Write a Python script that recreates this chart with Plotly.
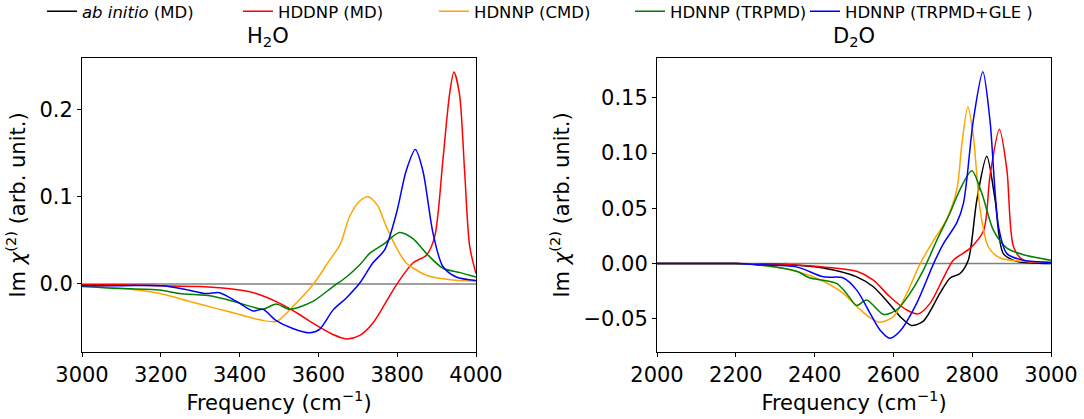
import plotly.graph_objects as go

# ---------------- H2O panel data ----------------
h2o_red_x = [3000, 3100, 3200, 3300, 3400, 3442, 3501, 3552, 3586, 3637, 3671, 3705, 3738, 3770, 3798, 3840, 3874, 3895, 3916, 3933, 3944, 3958, 3971, 3984, 4000]
h2o_red_y = [-0.001, -0.001, -0.002, -0.003, -0.007, -0.011, -0.022, -0.035, -0.045, -0.058, -0.063, -0.059, -0.045, -0.022, -0.001, 0.024, 0.033, 0.054, 0.142, 0.218, 0.243, 0.218, 0.130, 0.043, 0.012]

h2o_orange_x = [3000, 3100, 3197, 3273, 3340, 3400, 3451, 3493, 3535, 3586, 3628, 3655, 3679, 3705, 3726, 3750, 3772, 3800, 3823, 3874, 3930, 4000]
h2o_orange_y = [-0.002, -0.005, -0.011, -0.020, -0.028, -0.035, -0.041, -0.043, -0.026, -0.001, 0.027, 0.045, 0.077, 0.095, 0.100, 0.090, 0.066, 0.040, 0.024, 0.010, 0.005, 0.003]

h2o_green_x = [3000, 3078, 3197, 3248, 3332, 3392, 3430, 3459, 3493, 3527, 3586, 3637, 3671, 3705, 3730, 3764, 3806, 3840, 3874, 3916, 3960, 4000]
h2o_green_y = [-0.003, -0.005, -0.007, -0.011, -0.014, -0.021, -0.026, -0.029, -0.023, -0.029, -0.020, -0.003, 0.008, 0.022, 0.035, 0.045, 0.059, 0.052, 0.035, 0.018, 0.013, 0.008]

h2o_blue_x = [3000, 3100, 3205, 3260, 3315, 3349, 3392, 3434, 3459, 3493, 3535, 3578, 3603, 3637, 3671, 3705, 3738, 3768, 3798, 3823, 3846, 3865, 3891, 3916, 3950, 4000]
h2o_blue_y = [-0.002, -0.002, -0.002, -0.006, -0.011, -0.010, -0.020, -0.031, -0.029, -0.042, -0.051, -0.056, -0.052, -0.030, -0.016, 0.001, 0.024, 0.039, 0.081, 0.130, 0.154, 0.130, 0.058, 0.020, 0.008, 0.004]

# ---------------- D2O panel data ----------------
d2o_black_x = [2000, 2200, 2337, 2422, 2507, 2549, 2591, 2620, 2646, 2676, 2718, 2744, 2769, 2790, 2812, 2837, 2858, 2879, 2913, 3000]
d2o_black_y = [0.0, 0.0, -0.001, -0.004, -0.012, -0.021, -0.037, -0.049, -0.056, -0.052, -0.027, -0.013, -0.009, 0.003, 0.058, 0.097, 0.058, 0.009, 0.002, 0.0]

d2o_red_x = [2000, 2200, 2337, 2422, 2507, 2549, 2591, 2634, 2663, 2693, 2727, 2752, 2795, 2829, 2845, 2869, 2888, 2905, 2930, 3000]
d2o_red_y = [0.0, 0.0, -0.001, -0.003, -0.007, -0.015, -0.030, -0.042, -0.0455, -0.036, -0.013, 0.003, 0.014, 0.030, 0.079, 0.1215, 0.085, 0.015, 0.003, 0.001]

d2o_orange_x = [2000, 2200, 2253, 2354, 2422, 2473, 2507, 2541, 2566, 2600, 2634, 2668, 2702, 2735, 2761, 2774, 2789, 2803, 2820, 2841, 2871, 2930, 3000]
d2o_orange_y = [0.0, 0.0, -0.001, -0.007, -0.016, -0.027, -0.039, -0.049, -0.053, -0.048, -0.027, 0.000, 0.021, 0.040, 0.067, 0.109, 0.142, 0.115, 0.049, 0.015, 0.005, 0.002, 0.001]

d2o_green_x = [2000, 2200, 2253, 2354, 2388, 2422, 2456, 2481, 2507, 2532, 2575, 2608, 2642, 2676, 2710, 2744, 2769, 2799, 2824, 2854, 2888, 2930, 3000]
d2o_green_y = [0.0, 0.0, -0.001, -0.007, -0.013, -0.015, -0.018, -0.027, -0.038, -0.033, -0.046, -0.042, -0.027, -0.006, 0.021, 0.046, 0.067, 0.084, 0.064, 0.030, 0.014, 0.008, 0.003]

d2o_blue_x = [2000, 2200, 2253, 2354, 2422, 2473, 2507, 2541, 2566, 2591, 2617, 2659, 2702, 2727, 2761, 2778, 2803, 2827, 2845, 2867, 2888, 2930, 3000]
d2o_blue_y = [0.0, 0.0, -0.001, -0.003, -0.012, -0.013, -0.024, -0.045, -0.060, -0.0675, -0.061, -0.036, 0.000, 0.018, 0.037, 0.055, 0.130, 0.1735, 0.130, 0.033, 0.009, 0.003, 0.001]

names = ["<i>ab initio</i> (MD)", "HDDNP (MD)", "HDNNP (CMD)", "HDNNP (TRPMD)", "HDNNP (TRPMD+GLE )"]
colors = ["black", "red", "orange", "green", "blue"]
legend_ids = ["legend", "legend", "legend", "legend", "legend2"]

W, H = 1084, 419
OFF = 0  # page body margin removed via post_script
FONT = "DejaVu Sans"

def fx(px):
    return (px - OFF) / W

def fy(py):
    return 1 - (py - OFF) / H

fig = go.Figure()

def add(x, y, i, xa, ya, show):
    fig.add_trace(go.Scatter(x=x, y=y, mode="lines", name=names[i],
                             line=dict(color=colors[i], width=1.5, shape="spline", smoothing=0.8),
                             xaxis=xa, yaxis=ya, showlegend=show, legendgroup=str(i),
                             legend=legend_ids[i]))

add(d2o_black_x, d2o_black_y, 0, "x2", "y2", True)
add(h2o_red_x, h2o_red_y, 1, "x", "y", True)
add(h2o_orange_x, h2o_orange_y, 2, "x", "y", True)
add(h2o_green_x, h2o_green_y, 3, "x", "y", True)
add(h2o_blue_x, h2o_blue_y, 4, "x", "y", True)
add(d2o_red_x, d2o_red_y, 1, "x2", "y2", False)
add(d2o_orange_x, d2o_orange_y, 2, "x2", "y2", False)
add(d2o_green_x, d2o_green_y, 3, "x2", "y2", False)
add(d2o_blue_x, d2o_blue_y, 4, "x2", "y2", False)

fig.add_hline(y=0, line=dict(color="gray", width=1.5), xref="x", yref="y", layer="below")
fig.add_hline(y=0, line=dict(color="gray", width=1.5), xref="x2", yref="y2", layer="below")

ydom = [fy(352), fy(58)]
axis_common = dict(showline=True, linecolor="black", linewidth=1, mirror=True, automargin=False,
                   ticks="outside", ticklen=4, tickcolor="black", showgrid=False, zeroline=False,
                   tickfont=dict(family=FONT, size=21, color="black"))

ytitle = "Im <i>χ</i><sup>(2)</sup> (arb. unit.)"
xtitle = "Frequency (cm<sup>−1</sup>)"

legend_common = dict(orientation="h", yanchor="top", xanchor="left", y=fy(-6),
                     font=dict(family=FONT, size=16.5), itemwidth=30, bgcolor="rgba(0,0,0,0)")

fig.update_layout(
    width=W, height=H,
    margin=dict(l=0, r=0, t=0, b=0, autoexpand=False),
    plot_bgcolor="white", paper_bgcolor="white",
    font=dict(family=FONT, color="black"),
    xaxis=dict(domain=[fx(82), fx(476)], range=[3000, 4000], dtick=200, anchor="y",
               title=dict(text=xtitle, font=dict(size=21), standoff=0), **axis_common),
    yaxis=dict(domain=ydom, range=[-0.078, 0.259], dtick=0.1, tickformat=".1f", anchor="x",
               title=dict(text=ytitle, font=dict(size=21), standoff=8), **axis_common),
    xaxis2=dict(domain=[fx(657), fx(1051)], range=[2000, 3000], dtick=200, anchor="y2",
                title=dict(text=xtitle, font=dict(size=21), standoff=0), **axis_common),
    yaxis2=dict(domain=ydom, range=[-0.080, 0.186], dtick=0.05, tickformat=".2f", anchor="x2",
                title=dict(text=ytitle, font=dict(size=21), standoff=8), **axis_common),
    legend=dict(x=fx(42), entrywidth=151, entrywidthmode="pixels", **legend_common),
    legend2=dict(x=fx(805), **legend_common),
    annotations=[
        dict(text="H<sub>2</sub>O", x=fx(268), y=fy(37), xref="paper", yref="paper",
             showarrow=False, font=dict(family=FONT, size=21), xanchor="center", yanchor="middle"),
        dict(text="D<sub>2</sub>O", x=fx(854), y=fy(37), xref="paper", yref="paper",
             showarrow=False, font=dict(family=FONT, size=21), xanchor="center", yanchor="middle"),
    ],
)

fig.write_html("out.html", config={"displayModeBar": False},
               post_script="document.body.style.margin='0px';")
